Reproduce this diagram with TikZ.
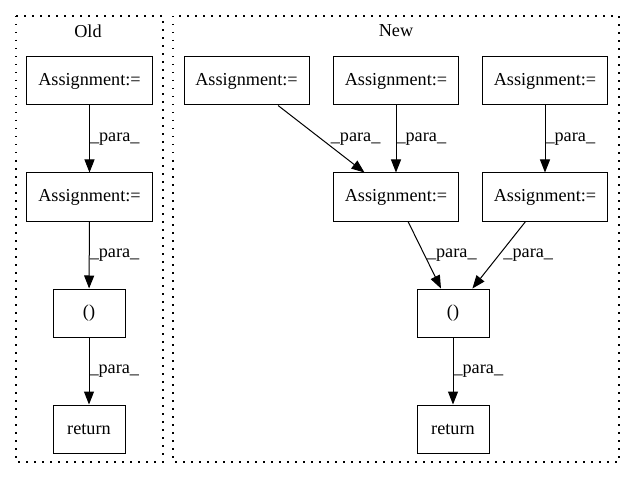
\documentclass[tikz,border=0pt]{standalone}
\usepackage{fontspec}
\setmainfont{Liberation Serif}
\usetikzlibrary{arrows.meta}
\begin{document}
\begin{tikzpicture}[x=1bp,y=-1bp,
  every node/.style={font=\fontsize{18.3}{21}\selectfont},
  box/.style={draw,line width=1bp,minimum height=48bp,inner sep=0pt},
  wbox/.style={box,minimum width=125bp},
  nbox/.style={box,minimum width=72bp},
  cluster/.style={line width=1.3bp,dash pattern=on 1.5bp off 6.5bp},
  edge/.style={line width=1bp,-{Triangle[length=13bp,width=10bp]}},
  lbl/.style={anchor=west,inner sep=0pt}]
\useasboundingbox[fill=white] (0,0) rectangle (635,480);
\draw[cluster] (16,16) rectangle (163,462);
\draw[cluster] (173,16) rectangle (619,462);
\node (oldtitle) at (88,31) {Old};
\node (newtitle) at (396,31) {New};
% Old
\node[wbox] (oa1) at (89.5,81) {Assignment:=};
\node[wbox] (oa2) at (89.5,197) {Assignment:=};
\node[nbox] (ot) at (89,313) {()};
\node[nbox] (oret) at (89,429) {return};
\draw[edge] (oa1) -- node[lbl,xshift=0bp] {\_para\_} (oa2);
\draw[edge] (oa2) -- node[lbl,xshift=0bp] {\_para\_} (ot);
\draw[edge] (ot) -- node[lbl,xshift=0bp] {\_para\_} (oret);
% New
\node[wbox] (na1) at (246.5,81) {Assignment:=};
\node[wbox] (na2) at (396,81) {Assignment:=};
\node[wbox] (na3) at (545,81) {Assignment:=};
\node[wbox] (nm) at (396,197) {Assignment:=};
\node[wbox] (nr) at (545,197) {Assignment:=};
\node[nbox] (nt) at (453,313) {()};
\node[nbox] (nret) at (453,429) {return};
\draw[edge] (na1) -- node[lbl,xshift=9bp] {\_para\_} (nm);
\draw[edge] (na2) -- node[lbl,xshift=0bp] {\_para\_} (nm);
\draw[edge] (na3) -- node[lbl,xshift=0bp] {\_para\_} (nr);
\draw[edge] (nm) -- node[lbl,xshift=2bp] {\_para\_} (nt);
\draw[edge] (nr) -- node[lbl,xshift=4bp] {\_para\_} (nt);
\draw[edge] (nt) -- node[lbl,xshift=0bp] {\_para\_} (nret);
\end{tikzpicture}
\end{document}
